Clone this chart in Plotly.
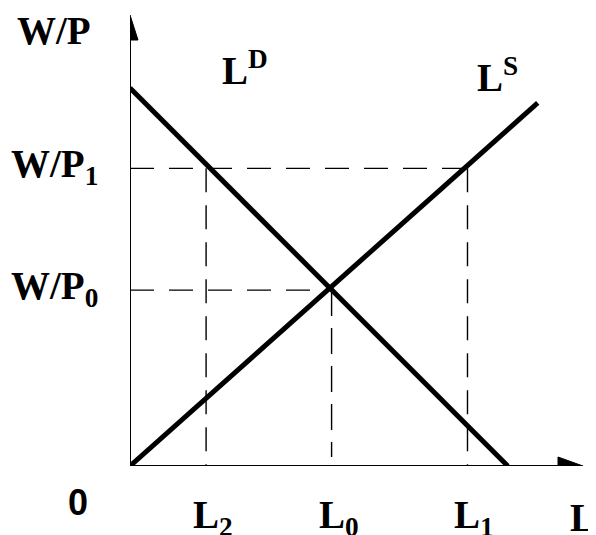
import plotly.graph_objects as go

# ---- data (model units) ----
demand_x = [0.0, 8.34]          # L^D endpoints (L)
demand_y = [8.38, 0.0]          # L^D endpoints (W/P)
supply_x = [0.0, 9.0]           # L^S endpoints (L)
supply_y = [0.0, 8.05]          # L^S endpoints (W/P)

wage_levels = {"W/P1": 6.6, "W/P0": 3.9}
labour_levels = {"L2": 1.68, "L0": 4.45, "L1": 7.45}

x_tick_text = ["<b>L<sub>2</sub></b>", "<b>L<sub>0</sub></b>", "<b>L<sub>1</sub></b>"]
y_tick_text = ["<b>W/P<sub>1</sub></b>", "<b>W/P<sub>0</sub></b>"]

# ---- layout geometry (page body has an 8px default margin) ----
OFF = 8
W, H = 596 - OFF, 535 - OFF
ML, MR, MT, MB = 130 - OFF, 13, 15 - OFF, 69
XMAX, YMAX = 10.0, 10.0
px_x = (W - ML - MR) / XMAX
px_y = (H - MT - MB) / YMAX

SERIF = "Liberation Serif"
FS = 39

fig = go.Figure()

def line(x, y, width, dash="solid"):
    fig.add_trace(go.Scatter(x=x, y=y, mode="lines",
                             line=dict(color="black", width=width, dash=dash),
                             hoverinfo="skip"))

# axes
arrow_len_x = 25 / px_x
arrow_len_y = 25 / px_y
line([0, 0], [0, YMAX - arrow_len_y], 2)
line([0, XMAX - arrow_len_x], [0, 0], 2)
fig.add_trace(go.Scatter(x=[-8 / px_x, 8 / px_x, 0, -8 / px_x],
                         y=[YMAX - arrow_len_y, YMAX - arrow_len_y, YMAX, YMAX - arrow_len_y],
                         mode="lines", fill="toself", fillcolor="black",
                         line=dict(color="black", width=1), hoverinfo="skip"))
fig.add_trace(go.Scatter(x=[XMAX - arrow_len_x, XMAX - arrow_len_x, XMAX, XMAX - arrow_len_x],
                         y=[-9 / px_y, 9 / px_y, 0, -9 / px_y],
                         mode="lines", fill="toself", fillcolor="black",
                         line=dict(color="black", width=1), hoverinfo="skip"))

wp1 = wage_levels["W/P1"]
wp0 = wage_levels["W/P0"]
L2, L0, L1 = labour_levels["L2"], labour_levels["L0"], labour_levels["L1"]

# dashed guides
line([0, L1], [wp1, wp1], 1.4, "24px,15px")
line([L2, L2], [wp1, 0], 1.4, "24px,13px")
line([L1, L1], [wp1, 0], 1.4, "24px,13px")
line([0, L0], [wp0, wp0], 1.4, "24px,15px")
line([L0, L0], [wp0, 0.2], 1.4, "26px,12px")

# curves
line(demand_x, demand_y, 5)
line(supply_x, supply_y, 5)

def ann(text, x, y, xanchor="center", yanchor="middle", xshift=0, yshift=0,
        family=SERIF, size=FS):
    fig.add_annotation(text=text, x=x, y=y, xref="x", yref="y", showarrow=False,
                       xanchor=xanchor, yanchor=yanchor, xshift=xshift, yshift=yshift,
                       font=dict(family=family, size=size, color="black"))

# x labels
for val, txt in zip([L2, L0, L1], x_tick_text):
    ann(txt, val, 0, xanchor="center", yanchor="middle", xshift=7, yshift=-51)
ann("<b>L</b>", XMAX, 0, xanchor="left", yanchor="middle", xshift=-15, yshift=-51)
ann("<b>0</b>", 0, 0, xanchor="center", yanchor="middle", xshift=-52, yshift=-36,
    family="Liberation Sans", size=36)

# y labels
for val, txt in zip([wp1, wp0], y_tick_text):
    ann(txt, 0, val, xanchor="right", yanchor="middle", xshift=-30, yshift=2)
ann("<b>W/P</b>", 0, YMAX, xanchor="right", yanchor="middle", xshift=-37, yshift=-15)

# curve labels
ann("<b>L<sup>D</sup></b>", demand_x[0], demand_y[0], xanchor="left", yanchor="middle",
    xshift=90, yshift=20)
ann("<b>L<sup>S</sup></b>", supply_x[1], supply_y[1], xanchor="left", yanchor="middle",
    xshift=-63, yshift=28)

fig.update_layout(
    width=W, height=H,
    margin=dict(l=ML, r=MR, t=MT, b=MB),
    paper_bgcolor="white", plot_bgcolor="white",
    showlegend=False,
    xaxis=dict(range=[0, XMAX], visible=False, fixedrange=True),
    yaxis=dict(range=[0, YMAX], visible=False, fixedrange=True),
)
fig.update_traces(cliponaxis=False)

fig.write_html("out.html")
